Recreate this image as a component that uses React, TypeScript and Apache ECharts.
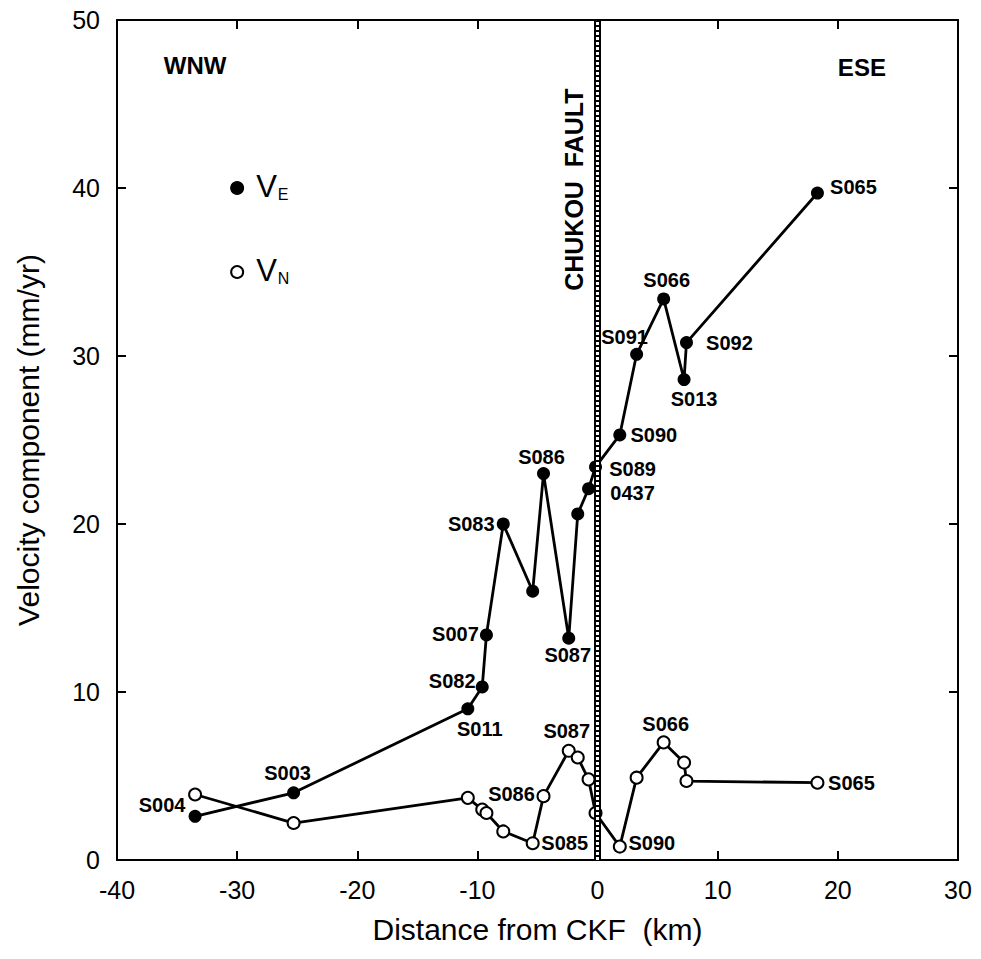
import React, { useEffect, useRef } from "react";
import * as echarts from "echarts";

// ---- Data ----
const distanceKm = [-33.5, -25.3, -10.8, -9.6, -9.25, -7.85, -5.4, -4.5, -2.4, -1.65, -0.75, -0.17, 1.85, 3.25, 5.5, 7.2, 7.4, 18.3];
const stationNames = ["S004", "S003", "S011", "S082", "S007", "S083", "S085", "S086", "S087", "", "", "S089", "S090", "S091", "S066", "S013", "S092", "S065"];
const velocityE = [2.6, 4.0, 9.0, 10.3, 13.4, 20.0, 16.0, 23.0, 13.2, 20.6, 22.1, 23.4, 25.3, 30.1, 33.4, 28.6, 30.8, 39.7];
const velocityN = [3.9, 2.2, 3.7, 3.0, 2.8, 1.7, 1.0, 3.8, 6.5, 6.1, 4.8, 2.8, 0.8, 4.9, 7.0, 5.8, 4.7, 4.6];
const coLocated: Record<string, string> = { S089: "0437" };

const xMin = -40, xMax = 30, xStep = 10;
const yMin = 0, yMax = 50, yStep = 10;
const faultKm = 0;

// ---- Layout (label offsets in px, relative to marker centre) ----
const veLabelOffsets: Record<string, [number, number]> = {
  S004: [-33, -11], S003: [-6, -20], S011: [12, 20], S082: [-30, -6], S007: [-31, -1], S083: [-32, 0],
  S086: [-2, -17], S087: [-1, 17], S089: [37, 14], S090: [34, 0], S091: [-12, -17], S066: [3, -19],
  S013: [10, 19], S092: [43, 0], S065: [36, -6],
};
const vnLabelOffsets: Record<string, [number, number]> = {
  S087: [-2, -20], S086: [-32, -2], S085: [32, 0], S090: [32, -4], S066: [2, -18], S065: [34, 0],
};

export default function App() {
  const ref = useRef<HTMLDivElement>(null);
  useEffect(() => {
    const chart = echarts.init(ref.current!, null, { renderer: "svg" });
    const font = "Arial, 'Liberation Sans', Helvetica, sans-serif";
    const lblStyle = { fontFamily: font, fontWeight: "bold", fontSize: 20, color: "#000", lineHeight: 24 };

    const build = (vals: number[], offsets: Record<string, [number, number]>) =>
      distanceKm.map((d, i) => {
        const name = stationNames[i];
        const item: any = { value: [d, vals[i]], name };
        const off = offsets[name];
        if (off) {
          const txt = coLocated[name] ? name + "\n" + coLocated[name] : name;
          item.label = { show: true, position: "inside", offset: off, formatter: txt, ...lblStyle };
        }
        return item;
      });

    const axisLine = { show: true, onZero: false, lineStyle: { color: "#000", width: 2 } };
    const axisTick = { show: true, inside: true, length: 9, lineStyle: { color: "#000", width: 2 } };
    const tickLabel = { color: "#000", fontSize: 25, fontFamily: font };

    const legendRich = {
      v: { fontSize: 31, fontFamily: font, color: "#000", verticalAlign: "bottom", lineHeight: 34 },
      s: { fontSize: 16, fontFamily: font, color: "#000", verticalAlign: "bottom", lineHeight: 24, padding: [0, 0, 0, 1] },
    };

    chart.setOption({
      animation: false,
      backgroundColor: "#fff",
      grid: { left: 117, top: 20, width: 841, height: 840 },
      xAxis: [
        {
          type: "value", min: xMin, max: xMax, interval: xStep, position: "bottom",
          axisLine, axisTick, splitLine: { show: false },
          axisLabel: { ...tickLabel, margin: 17 },
          name: "Distance from CKF  (km)", nameLocation: "middle", nameGap: 54,
          nameTextStyle: { fontSize: 30, color: "#000", fontFamily: font },
        },
        {
          type: "value", min: xMin, max: xMax, interval: xStep, position: "top",
          axisLine, axisTick, splitLine: { show: false }, axisLabel: { show: false },
        },
      ],
      yAxis: [
        {
          type: "value", min: yMin, max: yMax, interval: yStep, position: "left",
          axisLine, axisTick, splitLine: { show: false },
          axisLabel: { ...tickLabel, margin: 17 },
          name: "Velocity component (mm/yr)", nameLocation: "middle", nameGap: 74,
          nameTextStyle: { fontSize: 30, color: "#000", fontFamily: font },
        },
        {
          type: "value", min: yMin, max: yMax, interval: yStep, position: "right",
          axisLine, axisTick, splitLine: { show: false }, axisLabel: { show: false },
        },
      ],
      series: [
        {
          type: "line", data: [], z: 1, silent: true,
          markLine: {
            silent: true, symbol: ["none", "none"], label: { show: false },
            data: [
              { xAxis: faultKm, lineStyle: { color: "#000", width: 7, type: "solid" } },
              { xAxis: faultKm, lineStyle: { color: "#fff", width: 3, type: [3, 2] } },
            ],
          },
          markPoint: {
            silent: true,
            data: [
              { coord: [-33.5, 47.3], symbol: "circle", symbolSize: 0, itemStyle: { color: "transparent" },
                label: { show: true, position: "inside", formatter: "WNW", fontFamily: font, fontWeight: "bold", fontSize: 24, color: "#000" } },
              { coord: [22, 47.15], symbol: "circle", symbolSize: 0, itemStyle: { color: "transparent" },
                label: { show: true, position: "inside", formatter: "ESE", fontFamily: font, fontWeight: "bold", fontSize: 24, color: "#000" } },
              { coord: [-2.0, 39.9], symbol: "circle", symbolSize: 0, itemStyle: { color: "transparent" },
                label: { show: true, position: "inside", rotate: 90, formatter: "CHUKOU  FAULT", fontFamily: font, fontWeight: "bold", fontSize: 25, color: "#000" } },
            ],
          },
        },
        {
          name: "VE", type: "line", z: 3,
          data: build(velocityE, veLabelOffsets),
          symbol: "circle", symbolSize: 13,
          itemStyle: { color: "#000" },
          lineStyle: { color: "#000", width: 2.8 },
          markPoint: {
            silent: true,
            data: [
              { coord: [-30, 40], symbol: "circle", symbolSize: 14, itemStyle: { color: "#000" },
                label: { show: true, position: "right", distance: 12, offset: [0, -3], formatter: "{v|V}{s|E}", rich: legendRich } },
            ],
          },
        },
        {
          name: "VN", type: "line", z: 4,
          data: build(velocityN, vnLabelOffsets),
          symbol: "circle", symbolSize: 12,
          itemStyle: { color: "#fff", borderColor: "#000", borderWidth: 2 },
          lineStyle: { color: "#000", width: 2.8 },
          markPoint: {
            silent: true,
            data: [
              { coord: [-30, 35], symbol: "circle", symbolSize: 12, itemStyle: { color: "#fff", borderColor: "#000", borderWidth: 2 },
                label: { show: true, position: "right", distance: 12, offset: [0, -3], formatter: "{v|V}{s|N}", rich: legendRich } },
            ],
          },
        },
      ],
    });
    return () => chart.dispose();
  }, []);
  return <div ref={ref} style={{ position: "absolute", left: 0, top: 0, width: 981, height: 959 }} />;
}
